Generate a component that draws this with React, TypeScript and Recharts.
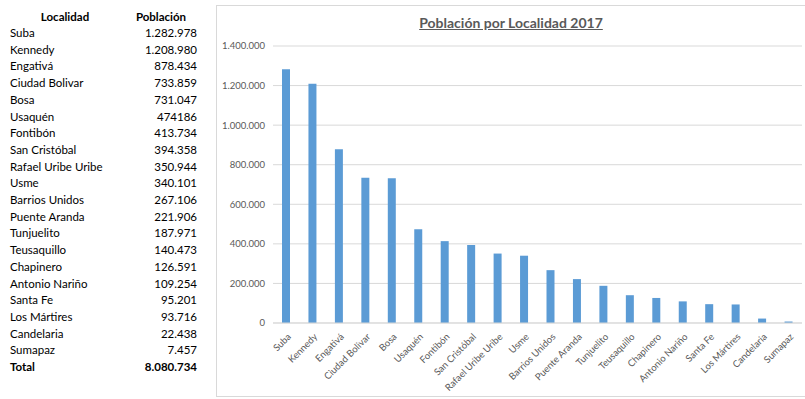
import React from 'react';
import { BarChart, Bar, XAxis, YAxis, CartesianGrid } from 'recharts';

const localidades = [
  'Suba', 'Kennedy', 'Engativá', 'Ciudad Bolivar', 'Bosa', 'Usaquén', 'Fontibón',
  'San Cristóbal', 'Rafael Uribe Uribe', 'Usme', 'Barrios Unidos', 'Puente Aranda',
  'Tunjuelito', 'Teusaquillo', 'Chapinero', 'Antonio Nariño', 'Santa Fe',
  'Los Mártires', 'Candelaria', 'Sumapaz',
];
const poblacion = [
  1282978, 1208980, 878434, 733859, 731047, 474186, 413734, 394358, 350944, 340101,
  267106, 221906, 187971, 140473, 126591, 109254, 95201, 93716, 22438, 7457,
];
const poblacionTexto = [
  '1.282.978', '1.208.980', '878.434', '733.859', '731.047', '474186', '413.734',
  '394.358', '350.944', '340.101', '267.106', '221.906', '187.971', '140.473',
  '126.591', '109.254', '95.201', '93.716', '22.438', '7.457',
];
const totalTexto = '8.080.734';
const yTicks = [0, 200000, 400000, 600000, 800000, 1000000, 1200000, 1400000];
const title = 'Población por Localidad 2017';

const data = localidades.map((name, i) => ({ name, value: poblacion[i] }));

const fmt = (v: number) => String(v).replace(/\B(?=(\d{3})+(?!\d))/g, '.');

const FONT = "Lato, 'Open Sans', sans-serif";
const TXT = '#595959';

const XTick = (props: any) => {
  const { x, y, payload } = props;
  return (
    <g transform={`translate(${x + 3},${y + 4})`}>
      <text
        x={0}
        y={0}
        dy="0.35em"
        textAnchor="end"
        transform="rotate(-45)"
        fill={TXT}
        fontSize={9.5}
        fontFamily={FONT}
      >
        {payload.value}
      </text>
    </g>
  );
};

const ROW_Y0 = 33;
const ROW_H = 16.7;
const VAL_RIGHT = 210 - 197;

export default function App() {
  return (
    <div
      style={{
        position: 'fixed',
        left: 0,
        top: 0,
        width: 805,
        height: 399,
        background: '#fff',
        overflow: 'hidden',
        fontFamily: FONT,
      }}
    >
      {/* Table */}
      <div style={{ position: 'absolute', left: 0, top: 0, width: 210, height: 399, fontSize: 11.5, color: '#000' }}>
        <div style={{ position: 'absolute', left: 30, width: 70, top: 17 - 8, lineHeight: '16px', fontWeight: 700, textAlign: 'center' }}>
          Localidad
        </div>
        <div style={{ position: 'absolute', left: 126, width: 70, top: 17 - 8, lineHeight: '16px', fontWeight: 700, textAlign: 'center' }}>
          Población
        </div>
        {localidades.map((n, i) => (
          <React.Fragment key={n}>
            <div style={{ position: 'absolute', left: 10, top: ROW_Y0 + i * ROW_H - 8, lineHeight: '16px', whiteSpace: 'nowrap' }}>
              {n}
            </div>
            <div style={{ position: 'absolute', right: VAL_RIGHT, top: ROW_Y0 + i * ROW_H - 8, lineHeight: '16px', whiteSpace: 'nowrap' }}>
              {poblacionTexto[i]}
            </div>
          </React.Fragment>
        ))}
        <div style={{ position: 'absolute', left: 10, top: ROW_Y0 + 20 * ROW_H - 8, lineHeight: '16px', fontWeight: 700 }}>
          Total
        </div>
        <div style={{ position: 'absolute', right: VAL_RIGHT, top: ROW_Y0 + 20 * ROW_H - 8, lineHeight: '16px', fontWeight: 700 }}>
          {totalTexto}
        </div>
      </div>

      {/* Chart box */}
      <div
        style={{
          position: 'absolute',
          left: 216,
          top: 5,
          width: 600,
          height: 392,
          border: '1px solid #D9D9D9',
          boxSizing: 'border-box',
        }}
      />
      <div
        style={{
          position: 'absolute',
          left: 216,
          top: 14,
          width: 590,
          textAlign: 'center',
          fontSize: 14,
          fontWeight: 700,
          color: TXT,
          textDecoration: 'underline',
          lineHeight: '18px',
        }}
      >
        {title}
      </div>
      <div style={{ position: 'absolute', left: 216, top: 5 }}>
        <BarChart
          width={590}
          height={393}
          data={data}
          margin={{ top: 41, right: 4, bottom: 0, left: 0 }}
          barCategoryGap={0}
        >
          <CartesianGrid vertical={false} stroke="#D9D9D9" strokeWidth={1} />
          <XAxis
            dataKey="name"
            interval={0}
            tick={<XTick />}
            tickLine={false}
            axisLine={{ stroke: '#D9D9D9' }}
            height={75}
          />
          <YAxis
            domain={[0, 1400000]}
            ticks={yTicks}
            tickFormatter={fmt}
            tickLine={false}
            axisLine={false}
            width={57}
            tick={{ fill: TXT, fontSize: 9.5, fontFamily: FONT }}
          />
          <Bar dataKey="value" fill="#5B9BD5" barSize={8} isAnimationActive={false} />
        </BarChart>
      </div>
    </div>
  );
}
